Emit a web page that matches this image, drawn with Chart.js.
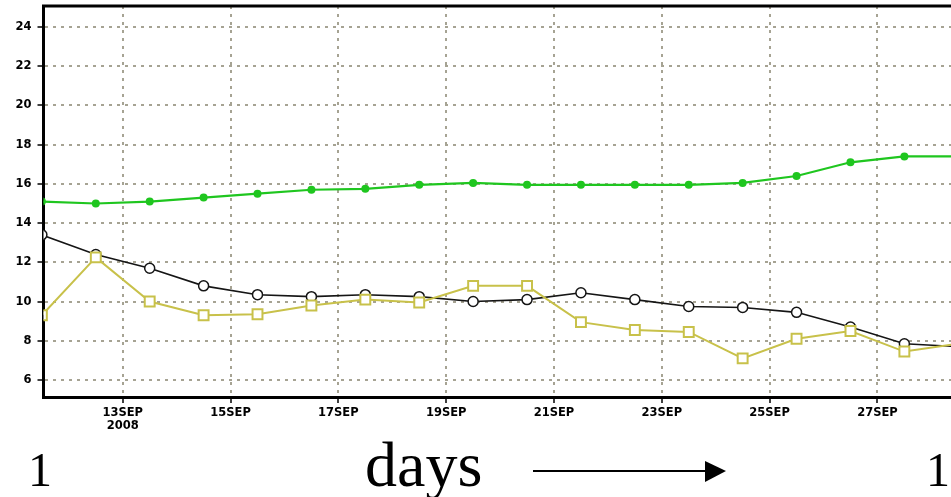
<!DOCTYPE html>
<html>
<head>
<meta charset="utf-8">
<script src="https://cdn.jsdelivr.net/npm/chart.js@4/dist/chart.umd.min.js"></script>
<style>
  html, body { margin: 0; padding: 0; background: #fff; }
  #wrap { position: relative; width: 951px; height: 497px; overflow: hidden; }
</style>
</head>
<body>
<div id="wrap"><canvas id="temps" width="951" height="497"></canvas></div>
<script>
// one reading per day, taken at noon (day of September 2008)
const days = [11.5, 12.5, 13.5, 14.5, 15.5, 16.5, 17.5, 18.5, 19.5, 20.5, 21.5, 22.5, 23.5, 24.5, 25.5, 26.5, 27.5, 28.5];
const greenSeries = [15.1, 15.0, 15.1, 15.3, 15.5, 15.7, 15.75, 15.95, 16.05, 15.95, 15.95, 15.95, 15.95, 16.05, 16.4, 17.1, 17.4, 17.4];
const blackSeries = [13.4, 12.4, 11.7, 10.8, 10.35, 10.25, 10.35, 10.25, 10.0, 10.1, 10.45, 10.1, 9.75, 9.7, 9.45, 8.7, 7.85, 7.7];
const yellowSeries = [9.3, 12.25, 10.0, 9.3, 9.35, 9.8, 10.1, 9.95, 10.8, 10.8, 8.95, 8.55, 8.45, 7.1, 8.1, 8.5, 7.45, 7.85];

const xTickDays = [13, 15, 17, 19, 21, 23, 25, 27];
const xTickLabels = ["13SEP", "15SEP", "17SEP", "19SEP", "21SEP", "23SEP", "25SEP", "27SEP"];
const yearLabel = "2008";
const yTicks = [6, 8, 10, 12, 14, 16, 18, 20, 22, 24];

const GRID = "#a6a393";
const tickFont = { family: "'DejaVu Sans'", size: 11.5, weight: "bold", lineHeight: 1.15 };

const toPoints = (vals) => vals.map((v, i) => ({ x: days[i], y: v }));

// black frame line along the top of the plot
const topFrame = {
  id: "topFrame",
  afterDraw(chart) {
    const { ctx, chartArea: a } = chart;
    ctx.save();
    ctx.strokeStyle = "#000";
    ctx.lineWidth = 3;
    ctx.beginPath();
    ctx.moveTo(a.left - 1.5, a.top);
    ctx.lineTo(a.right, a.top);
    ctx.stroke();
    ctx.restore();
  },
};

// big caption under the axis: 1   days  ---->   1
const caption = {
  id: "caption",
  afterDraw(chart) {
    const ctx = chart.ctx;
    ctx.save();
    ctx.fillStyle = "#000";
    ctx.strokeStyle = "#000";
    ctx.textBaseline = "alphabetic";
    ctx.textAlign = "left";
    ctx.font = "48px 'Liberation Serif'";
    ctx.fillText("1", 28, 486);
    ctx.fillText("1", 926, 486);
    ctx.font = "64px 'Liberation Serif'";
    ctx.fillText("days", 365, 486);

    ctx.lineWidth = 2;
    ctx.beginPath();
    ctx.moveTo(533, 471);
    ctx.lineTo(708, 471);
    ctx.stroke();
    ctx.beginPath();
    ctx.moveTo(705, 461);
    ctx.lineTo(726, 471);
    ctx.lineTo(705, 482);
    ctx.closePath();
    ctx.fill();
    ctx.restore();
  },
};

const gridOpts = {
  color: GRID,
  lineWidth: 2,
  tickColor: "#000",
  tickWidth: 1.5,
  tickLength: 6,
  tickBorderDash: [],
};

function initTempChart(canvasId) {
  const el = document.getElementById(canvasId);
  if (!el) return;

  new Chart(el.getContext("2d"), {
    type: "line",
    data: {
      datasets: [
        {
          data: toPoints(greenSeries),
          borderColor: "#1fc61f",
          borderWidth: 2.2,
          pointRadius: 4,
          pointBackgroundColor: "#1fc61f",
          pointBorderWidth: 0,
          order: 2,
        },
        {
          data: toPoints(blackSeries),
          borderColor: "#151515",
          borderWidth: 1.6,
          pointRadius: 5,
          pointBackgroundColor: "#fff",
          pointBorderColor: "#151515",
          pointBorderWidth: 1.5,
          order: 1,
        },
        {
          data: toPoints(yellowSeries),
          borderColor: "#c8c14a",
          borderWidth: 2,
          pointStyle: "rect",
          pointRadius: 7,
          pointBackgroundColor: "#fff",
          pointBorderColor: "#c8c14a",
          pointBorderWidth: 2,
          order: 0,
        },
      ],
    },
    options: {
      responsive: false,
      animation: false,
      clip: 0,
      layout: { autoPadding: false, padding: { top: 6, left: 0, right: 0, bottom: 0 } },
      plugins: { legend: { display: false }, tooltip: { enabled: false } },
      scales: {
        x: {
          type: "linear",
          min: 11.53,
          max: 28.365,
          afterBuildTicks: (s) => { s.ticks = xTickDays.map((v) => ({ value: v })); },
          afterFit: (s) => { s.height = 100; s.paddingLeft = 0; s.paddingRight = 0; },
          grid: gridOpts,
          border: { color: "#000", width: 3, dash: [3, 5] },
          ticks: {
            color: "#000",
            font: tickFont,
            padding: 3,
            maxRotation: 0,
            autoSkip: false,
            callback: (v, i) => (i === 0 ? [xTickLabels[i], yearLabel] : xTickLabels[i]),
          },
        },
        y: {
          min: 5.133,
          max: 25.07,
          afterBuildTicks: (s) => { s.ticks = yTicks.map((v) => ({ value: v })); },
          afterFit: (s) => { s.width = 43.5; s.paddingTop = 0; s.paddingBottom = 0; },
          grid: gridOpts,
          border: { color: "#000", width: 3, dash: [3, 5] },
          ticks: { color: "#000", font: tickFont, padding: 6 },
        },
      },
    },
    plugins: [topFrame, caption],
  });
}

initTempChart("temps");
</script>
</body>
</html>
